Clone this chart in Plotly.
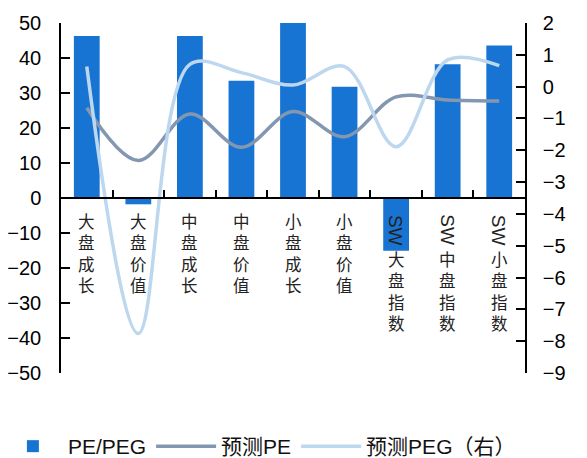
import plotly.graph_objects as go

categories = ["大盘成长", "大盘价值", "中盘成长", "中盘价值", "小盘成长", "小盘价值",
              "SW大盘指数", "SW中盘指数", "SW小盘指数"]
pe_peg = [46.3, -1.8, 46.3, 33.5, 50.0, 31.8, -15.1, 38.2, 43.6]
pred_pe = [25.8, 10.7, 24.0, 14.5, 24.7, 17.5, 28.9, 28.0, 27.7]
pred_peg = [0.63, -7.76, 0.70, 0.44, 0.05, 0.63, -1.89, 0.84, 0.66]

BAR = "#1874D2"
GRAY = "#8497B0"
LIGHT = "#BDD7EE"
NUM_FONT = "Liberation Sans, Arial, Noto Sans CJK SC"
CJK_FONT = "Noto Sans CJK SC, Liberation Sans"

fig = go.Figure()
fig.add_trace(go.Bar(x=categories, y=pe_peg, name="PE/PEG", marker_color=BAR,
                     marker_line_width=0))
fig.add_trace(go.Scatter(x=categories, y=pred_pe, name="预测PE", mode="lines",
                         line=dict(color=GRAY, width=3.5, shape="spline", smoothing=1.0)))
fig.add_trace(go.Scatter(x=categories, y=pred_peg, name="预测PEG（右）", mode="lines",
                         yaxis="y2",
                         line=dict(color=LIGHT, width=3.5, shape="spline", smoothing=1.0)))

# category labels written vertically below the zero line
for c in categories:
    if c.startswith("SW"):
        fig.add_annotation(x=c, y=0, xref="x", yref="y", text="SW", textangle=90,
                           showarrow=False, yanchor="middle", xanchor="center", yshift=-32,
                           font=dict(family=NUM_FONT, size=19, color="#222"))
        rest = c[2:]
        fig.add_annotation(x=c, y=0, xref="x", yref="y", text="<br>".join(rest),
                           showarrow=False, yanchor="middle", xanchor="center", yshift=-93,
                           font=dict(family=CJK_FONT, size=16.5, color="#222"))
    else:
        fig.add_annotation(x=c, y=0, xref="x", yref="y", text="<br>".join(c),
                           showarrow=False, yanchor="middle", xanchor="center", yshift=-55,
                           font=dict(family=CJK_FONT, size=16.5, color="#222"))

fig.update_layout(
    width=587, height=458,
    margin=dict(l=61, r=62, t=23, b=85, autoexpand=False),
    plot_bgcolor="white", paper_bgcolor="white",
    bargap=0.5,
    showlegend=True,
    legend=dict(orientation="h", x=-0.136, y=-0.21, xanchor="left", yanchor="middle",
                font=dict(family=NUM_FONT, size=21, color="#111"),
                itemwidth=60, bgcolor="rgba(0,0,0,0)"),
    xaxis=dict(anchor="free", position=0.5, showline=True, linecolor="black", linewidth=1.5,
               ticks="inside", tickson="boundaries", ticklen=7, tickcolor="black",
               tickwidth=1.5, showticklabels=False, showgrid=False, zeroline=False),
    yaxis=dict(range=[-50, 50], dtick=10, showline=True, linecolor="black", linewidth=1.5,
               ticks="inside", ticklen=9, tickcolor="black", tickwidth=1.5,
               showgrid=False, zeroline=False, ticklabelstandoff=14,
               tickfont=dict(family=NUM_FONT, size=20, color="black")),
    yaxis2=dict(range=[-9, 2], dtick=1, overlaying="y", side="right", showline=True,
                linecolor="black", linewidth=1.5, ticks="inside", ticklen=9,
                tickcolor="black", tickwidth=1.5, showgrid=False, zeroline=False,
                ticklabelstandoff=12,
                tickfont=dict(family=NUM_FONT, size=20, color="black")),
)

fig.write_html("out.html", config={"displayModeBar": False},
               post_script="document.body.style.margin='0';")
